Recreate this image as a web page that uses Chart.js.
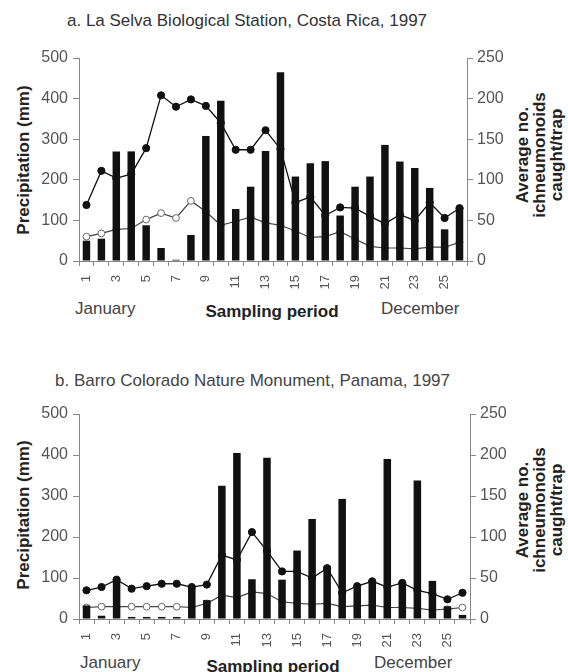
<!DOCTYPE html>
<html>
<head>
<meta charset="utf-8">
<script src="https://cdn.jsdelivr.net/npm/chart.js@4.4.1/dist/chart.umd.min.js"></script>
<style>
html,body{margin:0;padding:0;background:#fff;}
body{width:568px;height:672px;position:relative;overflow:hidden;font-family:"Liberation Sans",Arial,sans-serif;}
canvas{position:absolute;left:0;}
.t{position:absolute;white-space:nowrap;line-height:20px;}
.rot{position:absolute;white-space:nowrap;transform:translate(-50%,-50%) rotate(-90deg);text-align:center;font-weight:bold;color:#222;font-size:17px;line-height:17px;}
.mid{transform:translateX(-50%);}
</style>
</head>
<body>
<div class="t" style="left:67px;top:11px;font-size:17px;color:#333;">a. La Selva Biological Station, Costa Rica, 1997</div>
<div class="rot" style="left:23px;top:160px;">Precipitation (mm)</div>
<div class="rot" style="left:539px;top:155px;">Average no.<br>ichneumonoids<br>caught/trap</div>
<div class="t" style="left:75px;top:299px;font-size:17px;color:#444;">January</div>
<div class="t mid" style="left:272px;top:302px;font-size:17px;font-weight:bold;color:#222;">Sampling period</div>
<div class="t" style="left:381px;top:299px;font-size:17px;color:#444;">December</div>
<canvas id="chartA" width="568" height="300" style="top:30px;"></canvas>

<div class="t" style="left:55px;top:371px;font-size:17px;color:#444;">b. Barro Colorado Nature Monument, Panama, 1997</div>
<div class="rot" style="left:23px;top:515px;">Precipitation (mm)</div>
<div class="rot" style="left:539px;top:510px;">Average no.<br>ichneumonoids<br>caught/trap</div>
<div class="t" style="left:80px;top:653px;font-size:17px;color:#444;">January</div>
<div class="t mid" style="left:273px;top:657px;font-size:17px;font-weight:bold;color:#222;">Sampling period</div>
<div class="t" style="left:374px;top:653px;font-size:17px;color:#444;">December</div>
<canvas id="chartB" width="568" height="282" style="top:390px;"></canvas>

<script>
// ---- data ----
const periods = ['1','2','3','4','5','6','7','8','9','10','11','12','13','14','15','16','17','18','19','20','21','22','23','24','25','26'];

// a. La Selva
const precipA   = [50, 55, 270, 270, 88, 32, 3, 64, 308, 395, 128, 183, 271, 465, 208, 241, 246, 112, 183, 208, 286, 245, 229, 180, 78, 134];
const filledA   = [69, 111, 102, 107, 139, 204, 190, 199, 191, 170, 137, 137, 161, 138, 72, 79, 56, 66, 65, 55, 46, 57, 50, 72, 53, 65];
const openA     = [30, 34, 39, 40, 51, 59, 53, 74, 61, 44, 49, 54, 47, 44, 37, 29, 30, 36, 27, 18, 16, 16, 15, 17, 17, 23];

// b. Barro Colorado
const precipB   = [33, 8, 98, 5, 5, 5, 5, 76, 46, 325, 405, 97, 393, 96, 167, 244, 128, 293, 75, 95, 390, 91, 338, 93, 31, 10];
const filledB   = [35, 39, 48, 37, 40, 43, 43, 39, 42, 78, 72, 106, 83, 58, 58, 50, 62, 32, 40, 46, 39, 44, 35, 31, 24, 32];
const openB     = [14, 15, 15, 15, 15, 15, 15, 14, 19, 29, 26, 33, 31, 21, 19, 18, 19, 15, 16, 17, 14, 14, 13, 11, 12, 14];

const precipMax = 500, precipStep = 50;
const countMax = 250, countStep = 50;

const FONT = '"Liberation Sans", Arial, sans-serif';
Chart.defaults.font.family = FONT;

// vertical (bottom-to-top) period labels, every second period
const periodLabels = {
  id: 'periodLabels',
  afterDraw(chart) {
    const ctx = chart.ctx, x = chart.scales.x;
    ctx.save();
    ctx.font = '13px ' + FONT;
    ctx.fillStyle = '#555';
    ctx.textAlign = 'right';
    ctx.textBaseline = 'middle';
    periods.forEach((p, i) => {
      if (i % 2) return;
      ctx.save();
      ctx.translate(x.getPixelForValue(i), x.top + 14);
      ctx.rotate(-Math.PI / 2);
      ctx.fillText(p, 0, 0);
      ctx.restore();
    });
    ctx.restore();
  }
};

function makeChart(id, precip, filled, open, g) {
  const axisColor = '#888';
  const tickColor = '#555';
  return new Chart(document.getElementById(id), {
    type: 'bar',
    data: {
      labels: periods,
      datasets: [
        { type: 'bar', data: precip, yAxisID: 'y', backgroundColor: '#111', borderWidth: 0,
          barPercentage: 0.5, categoryPercentage: 1, order: 0 },
        { type: 'line', data: filled, yAxisID: 'y2', borderColor: '#111', borderWidth: 1.3,
          pointRadius: 3.6, pointBackgroundColor: '#111', pointBorderColor: '#111', pointBorderWidth: 1,
          tension: 0, order: 1 },
        { type: 'line', data: open, yAxisID: 'y2', borderColor: '#444', borderWidth: 1.2,
          pointRadius: 3.4, pointBackgroundColor: '#fff', pointBorderColor: '#666', pointBorderWidth: 1,
          tension: 0, order: 2 }
      ]
    },
    options: {
      responsive: false, animation: false, devicePixelRatio: 1,
      layout: { padding: { top: g.padTop, left: 0, right: 0, bottom: 0 } },
      plugins: { legend: { display: false }, tooltip: { enabled: false } },
      scales: {
        x: {
          grid: { display: true, drawOnChartArea: false, drawTicks: true, tickLength: 5, color: axisColor },
          border: { display: true, color: axisColor },
          ticks: { autoSkip: false, maxRotation: 0, font: { size: 13 }, color: tickColor,
                   callback: () => '' },
          afterFit: s => { s.height = g.xH; }
        },
        y: {
          position: 'left', min: 0, max: precipMax,
          grid: { display: true, drawOnChartArea: false, drawTicks: true, tickLength: 6, color: axisColor },
          border: { display: true, color: axisColor },
          ticks: { stepSize: precipStep, padding: 5, font: { size: 16 }, color: tickColor },
          afterFit: s => { s.width = 79; }
        },
        y2: {
          position: 'right', min: 0, max: countMax,
          grid: { display: true, drawOnChartArea: false, drawTicks: true, tickLength: 6, color: axisColor },
          border: { display: true, color: axisColor },
          ticks: { stepSize: countStep, padding: 4, font: { size: 16 }, color: tickColor },
          afterFit: s => { s.width = g.rW; }
        }
      }
    },
    plugins: [periodLabels]
  });
}

makeChart('chartA', precipA, filledA, openA, { padTop: 28, xH: 69, rW: 101 });
makeChart('chartB', precipB, filledB, openB, { padTop: 24, xH: 53, rW: 98 });
</script>
</body>
</html>
